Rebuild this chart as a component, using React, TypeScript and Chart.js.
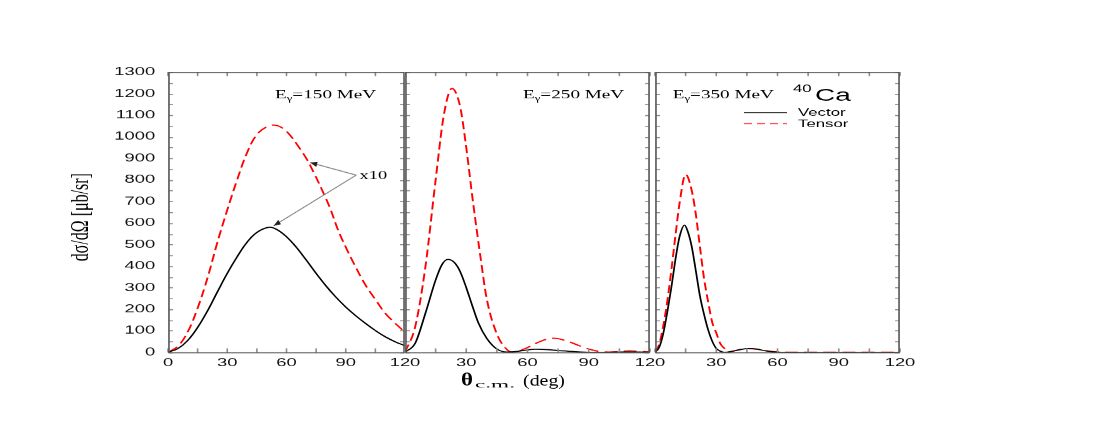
import React, { useEffect, useRef } from 'react';
import { Chart, registerables } from 'chart.js';

Chart.register(...registerables);

// ---- geometry of the (horizontally stretched) figure ----
const W = 688;
const H = 425;
const S = 1100 / W; // horizontal stretch of the whole picture

// ---- ticks ----
const xTickValues = [0, 30, 60, 90, 120];
const yTickValues = [0, 100, 200, 300, 400, 500, 600, 700, 800, 900, 1000, 1100, 1200, 1300];
const minorYStep = 50;
const minorXStep = 15;

// ---- panels ----
const panelIds = ['x1', 'x2', 'x3'];
const panelEnergies = ['150', '250', '350'];

// ---- Eγ = 150 MeV ----
const thetaV150 = [0, 5, 10, 15, 20, 25, 30, 35, 40, 45, 51, 55, 60, 65, 70, 75, 80, 85, 90, 95, 100, 105, 110, 115, 120];
const vector150 = [0, 17, 55, 115, 192, 280, 366, 443, 510, 556, 580, 570, 536, 487, 428, 366, 308, 256, 210, 170, 134, 101, 72, 49, 30];
const thetaT150 = [0, 5, 10, 15, 20, 25, 30, 35, 40, 45, 50, 54, 58, 62, 66, 70, 74, 78, 82, 86, 90, 95, 100, 105, 110, 115, 120];
const tensor150 = [0, 28, 95, 205, 345, 510, 660, 800, 925, 1010, 1046, 1054, 1040, 1005, 955, 900, 830, 753, 670, 570, 488, 396, 312, 245, 181, 135, 93];

// ---- Eγ = 250 MeV ----
const thetaV250 = [0, 5, 10, 15, 18, 21, 24, 27, 30, 33, 36, 40, 45, 50, 55, 60, 64, 70, 75, 80, 85, 90, 100, 110, 115, 120];
const vector250 = [0, 42, 181, 335, 405, 431, 418, 375, 300, 215, 135, 65, 15, 1, 4, 11, 14, 12, 8, 5, 2, 0, 0, 2, 1, 0];
const thetaT250 = [0, 5, 10, 15, 19, 23, 27, 30, 33, 37, 40, 45, 50, 53, 60, 65, 70, 73, 80, 85, 90, 95, 100, 105, 110, 115, 120];
const tensor250 = [0, 119, 397, 799, 1100, 1224, 1140, 950, 720, 440, 250, 85, 12, 0, 22, 45, 62, 65, 50, 32, 15, 4, 1, 3, 7, 4, 2];

// ---- Eγ = 350 MeV ----
const thetaV350 = [0, 2, 4, 6, 8, 10, 12, 14.5, 16, 18, 20, 22, 24, 26, 28, 30, 32, 34, 38, 42, 46, 50, 54, 58, 62, 70, 120];
const vector350 = [0, 22, 85, 185, 300, 430, 535, 590, 562, 490, 378, 262, 177, 105, 52, 18, 5, 0, 5, 13, 17, 14, 7, 2, 0, 0, 0];
const thetaT350 = [0, 2, 4, 6, 8, 10, 12, 15, 18, 20, 22, 24, 26, 28, 30, 32, 34, 36, 38, 42, 46, 50, 54, 58, 62, 70, 120];
const tensor350 = [0, 35, 120, 235, 380, 540, 690, 825, 750, 640, 490, 344, 236, 140, 90, 40, 18, 2, 5, 13, 17, 15, 8, 3, 1, 0, 0];

// ---- "x10" annotation (panel 1 data coordinates) ----
const x10Label = { x: 97, y: 803 };
const arrowFrom = { x: 95.3, y: 822 };
const arrowTips = [
  { x: 72, y: 880 },
  { x: 53.5, y: 587 },
];

const SERIF = '"Liberation Serif", "Times New Roman", serif';
const SANS = '"Liberation Sans", Arial, sans-serif';

const zip = (xs: number[], ys: number[]) => xs.map((x, i) => ({ x, y: ys[i] }));

function lineDs(label: string, xs: number[], ys: number[], axis: string, smooth: boolean) {
  const tensor = label === 'Tensor';
  return {
    label,
    data: zip(xs, ys),
    xAxisID: axis,
    yAxisID: 'y',
    borderColor: tensor ? '#ff0000' : '#000000',
    borderWidth: tensor ? 1.2 : 1.1,
    borderDash: tensor ? [8, 4] : [],
    pointRadius: 0,
    fill: false,
    tension: 0.4,
    cubicInterpolationMode: smooth ? ('default' as const) : ('monotone' as const),
  };
}

function drawPiece(ctx: CanvasRenderingContext2D, text: string, xReal: number, y: number, font: string, targetReal?: number) {
  ctx.font = font;
  const w = ctx.measureText(text).width;
  const fx = targetReal ? targetReal / S / w : 1;
  ctx.save();
  ctx.translate(xReal / S, y);
  ctx.scale(fx, 1);
  ctx.fillText(text, 0, 0);
  ctx.restore();
  return w * fx * S;
}

const overlay = {
  id: 'overlay',
  afterDatasetsDraw(chart: any) {
    const ctx: CanvasRenderingContext2D = chart.ctx;
    const { top, bottom } = chart.chartArea;
    const ys = chart.scales.y;
    ctx.save();

    // frames and inward ticks
    panelIds.forEach((id) => {
      const sc = chart.scales[id];
      const l = sc.left + 0.6;
      const r = sc.right - 0.6;
      ctx.strokeStyle = '#8c8c8c';
      ctx.lineWidth = 1;
      ctx.beginPath();
      for (let v = 0; v <= 1300; v += minorYStep) {
        const py = Math.round(ys.getPixelForValue(v)) + 0.5;
        ctx.moveTo(l, py);
        ctx.lineTo(l + 4 / S, py);
        ctx.moveTo(r, py);
        ctx.lineTo(r - 4 / S, py);
      }
      for (let d = 0; d <= 120; d += minorXStep) {
        const px = sc.getPixelForValue(d);
        ctx.moveTo(px, top);
        ctx.lineTo(px, top + 4);
        ctx.moveTo(px, bottom);
        ctx.lineTo(px, bottom - 4);
      }
      ctx.stroke();
      ctx.strokeStyle = '#555';
      ctx.lineWidth = 1;
      ctx.strokeRect(l, top + 0.5, r - l, bottom - top);
    });

    ctx.fillStyle = '#000';
    ctx.textBaseline = 'alphabetic';
    ctx.textAlign = 'left';

    // panel labels  Eγ=... MeV
    const labelOffsets = [107, 118, 17.7];
    panelIds.forEach((id, i) => {
      const sc = chart.scales[id];
      let xr = sc.left * S + labelOffsets[i];
      xr += drawPiece(ctx, 'E', xr, 98, `12px ${SERIF}`);
      xr += drawPiece(ctx, 'γ', xr, 101, `8px ${SERIF}`);
      drawPiece(ctx, `=${panelEnergies[i]} MeV`, xr, 98, `12px ${SERIF}`);
    });

    // 40Ca
    const p3 = chart.scales.x3;
    const p3l = p3.left * S;
    drawPiece(ctx, '40', p3l + 138, 92, `10.5px ${SANS}`);
    drawPiece(ctx, 'Ca', p3l + 160, 100.7, `17.5px ${SANS}`);

    // legend
    ctx.lineWidth = 1;
    ctx.strokeStyle = '#333';
    ctx.setLineDash([]);
    ctx.beginPath();
    ctx.moveTo((p3l + 89) / S, 112.5);
    ctx.lineTo((p3l + 132) / S, 112.5);
    ctx.stroke();
    ctx.strokeStyle = '#ff3030';
    ctx.setLineDash([8 / S, 5 / S]);
    ctx.beginPath();
    ctx.moveTo((p3l + 89) / S, 123.5);
    ctx.lineTo((p3l + 132) / S, 123.5);
    ctx.stroke();
    ctx.setLineDash([]);
    drawPiece(ctx, 'Vector', p3l + 143, 115.7, `10.5px ${SANS}`);
    drawPiece(ctx, 'Tensor', p3l + 143, 126.7, `10.5px ${SANS}`);

    // x10 annotation with arrows
    const p1 = chart.scales.x1;
    const fx = p1.getPixelForValue(arrowFrom.x);
    const fy = ys.getPixelForValue(arrowFrom.y);
    arrowTips.forEach((t) => {
      const tx = p1.getPixelForValue(t.x);
      const ty = ys.getPixelForValue(t.y);
      ctx.strokeStyle = '#8a8a8a';
      ctx.lineWidth = 0.9;
      ctx.beginPath();
      ctx.moveTo(fx, fy);
      ctx.lineTo(tx, ty);
      ctx.stroke();
      const dxr = (tx - fx) * S;
      const dyr = ty - fy;
      const len = Math.hypot(dxr, dyr);
      const ux = dxr / len;
      const uy = dyr / len;
      const L = 7;
      const Wd = 2.6;
      const bx = tx * S - ux * L;
      const by = ty - uy * L;
      ctx.fillStyle = '#222';
      ctx.beginPath();
      ctx.moveTo(tx, ty);
      ctx.lineTo((bx - uy * Wd) / S, by + ux * Wd);
      ctx.lineTo((bx + uy * Wd) / S, by - ux * Wd);
      ctx.closePath();
      ctx.fill();
    });
    ctx.fillStyle = '#000';
    drawPiece(ctx, 'x10', p1.getPixelForValue(x10Label.x) * S, ys.getPixelForValue(x10Label.y), `11.5px ${SERIF}`);

    // y-axis title
    ctx.save();
    ctx.translate(81.5 / S, 217);
    ctx.rotate(-Math.PI / 2);
    ctx.textAlign = 'center';
    ctx.textBaseline = 'middle';
    ctx.font = `16px ${SERIF}`;
    ctx.fillText('dσ/dΩ [μb/sr]', 0, 0);
    ctx.restore();

    // x-axis title  θc.m. (deg)
    drawPiece(ctx, 'θ', 461, 385, `bold 18px ${SERIF}`, 12);
    drawPiece(ctx, 'c.m.', 475, 387, `8.5px ${SERIF}`, 40);
    drawPiece(ctx, '(deg)', 523, 385, `16px ${SERIF}`, 42);

    ctx.restore();
  },
};

function xScale(weight: number, showZero: boolean) {
  return {
    type: 'linear' as const,
    position: 'bottom' as const,
    stack: 'panels',
    stackWeight: weight,
    min: 0,
    max: 120,
    grid: { display: false, drawTicks: false },
    border: { display: false },
    afterBuildTicks: (s: any) => {
      s.ticks = xTickValues.map((v) => ({ value: v }));
    },
    ticks: {
      autoSkip: false,
      maxRotation: 0,
      padding: 4,
      color: '#111',
      font: { family: SANS, size: 11.5 },
      callback: (v: any) => (!showZero && Number(v) === 0 ? '' : String(v)),
    },
    afterFit: (s: any) => {
      s.height = H - 352;
    },
  };
}

export default function App() {
  const ref = useRef<HTMLCanvasElement | null>(null);

  useEffect(() => {
    if (!ref.current) return;
    const chart = new Chart(ref.current, {
      type: 'line',
      data: {
        datasets: [
          lineDs('Vector', thetaV150, vector150, 'x1', true),
          lineDs('Tensor', thetaT150, tensor150, 'x1', true),
          lineDs('Vector', thetaV250, vector250, 'x2', false),
          lineDs('Tensor', thetaT250, tensor250, 'x2', false),
          lineDs('Vector', thetaV350, vector350, 'x3', false),
          lineDs('Tensor', thetaT350, tensor350, 'x3', false),
        ] as any,
      },
      options: {
        responsive: false,
        animation: false,
        devicePixelRatio: S,
        layout: { padding: { left: 0, top: 72, right: W - 900 / S, bottom: 0 } },
        plugins: { legend: { display: false }, tooltip: { enabled: false } },
        events: [],
        scales: {
          y: {
            type: 'linear',
            position: 'left',
            min: 0,
            max: 1300,
            grid: { display: false, drawTicks: false },
            border: { display: false },
            afterBuildTicks: (s: any) => {
              s.ticks = yTickValues.map((v) => ({ value: v }));
            },
            ticks: {
              padding: 8,
              color: '#111',
              font: { family: SANS, size: 11.5 },
              callback: (v: any) => String(v),
            },
            afterFit: (s: any) => {
              s.width = 168 / S;
            },
          },
          x1: xScale(237, true),
          x2: xScale(245, false),
          gap: {
            type: 'linear',
            position: 'bottom',
            stack: 'panels',
            stackWeight: 5,
            min: 0,
            max: 1,
            grid: { display: false, drawTicks: false },
            border: { display: false },
            ticks: { display: false },
            afterFit: (s: any) => {
              s.height = H - 352;
            },
          },
          x3: xScale(245, false),
        } as any,
      },
      plugins: [overlay],
    });
    return () => chart.destroy();
  }, []);

  return (
    <div style={{ position: 'fixed', left: 0, top: 0, width: 1100, height: 425, overflow: 'hidden', background: '#fff' }}>
      <canvas
        ref={ref}
        width={W}
        height={H}
        style={{ position: 'absolute', left: 0, top: 0, transform: `scaleX(${S})`, transformOrigin: '0 0' }}
      />
    </div>
  );
}
